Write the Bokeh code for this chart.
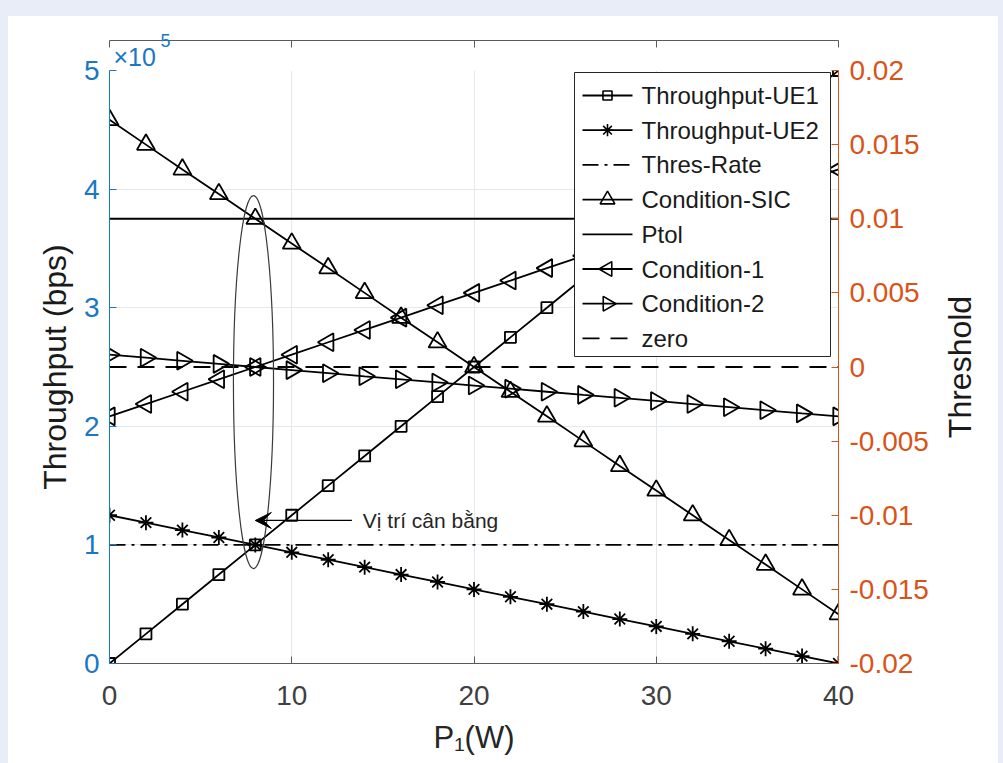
from bokeh.plotting import figure
from bokeh.layouts import row
from bokeh.models import (Range1d, LinearAxis, FixedTicker, Label, Arrow, VeeHead, Title)
from bokeh.core.properties import value
from bokeh.embed import file_html
from bokeh.resources import INLINE

# ---------------- data ----------------
p1_w = [0, 2, 4, 6, 8, 10, 12, 14, 16, 18, 20, 22, 24, 26, 28, 30, 32, 34, 36, 38, 40]

throughput_ue1 = [0, 25000, 50000, 75000, 100000, 125000, 150000, 175000, 200000, 225000,
                  250000, 275000, 300000, 325000, 350000, 375000, 400000, 425000, 450000,
                  475000, 500000]
throughput_ue2 = [125000, 118750, 112500, 106250, 100000, 93750, 87500, 81250, 75000, 68750,
                  62500, 56250, 50000, 43750, 37500, 31250, 25000, 18750, 12500, 6250, 0]
condition_sic = [0.01667, 0.015, 0.01333, 0.01167, 0.01, 0.00833, 0.00667, 0.005, 0.00333,
                 0.00167, 0.0, -0.00167, -0.00333, -0.005, -0.00667, -0.00833, -0.01,
                 -0.01167, -0.01333, -0.015, -0.01667]
condition_1 = [-0.00333, -0.0025, -0.00167, -0.00083, 0.0, 0.00083, 0.00167, 0.0025, 0.00333,
               0.00417, 0.005, 0.00583, 0.00667, 0.0075, 0.00833, 0.00917, 0.01, 0.01083,
               0.01167, 0.0125, 0.01333]
condition_2 = [0.00083, 0.00063, 0.00042, 0.00021, 0.0, -0.00021, -0.00042, -0.00063, -0.00083,
               -0.00104, -0.00125, -0.00146, -0.00167, -0.00188, -0.00208, -0.00229, -0.0025,
               -0.00271, -0.00292, -0.00313, -0.00333]

hline_x = [0, 40]
thres_rate = [100000, 100000]
ptol = [0.01, 0.01]
zero = [0.0, 0.0]

x_ticks = [0, 10, 20, 30, 40]
left_ticks = [0, 100000, 200000, 300000, 400000, 500000]
left_tick_labels = ["0", "1", "2", "3", "4", "5"]
right_ticks = [-0.02, -0.015, -0.01, -0.005, 0.0, 0.005, 0.01, 0.015, 0.02]
right_tick_labels = ["-0.02", "-0.015", "-0.01", "-0.005", "0", "0.005", "0.01", "0.015", "0.02"]

legend_labels = ["Throughput-UE1", "Throughput-UE2", "Thres-Rate", "Condition-SIC", "Ptol",
                 "Condition-1", "Condition-2", "zero"]

# annotation (equilibrium point)
eq_x, eq_y = 7.9, 237300
eq_w, eq_h = 2.2, 314500
arrow_x0, arrow_x1, arrow_y = 13.3, 8.0, 120600
note_x, note_y = 13.9, 120600
note_text = "Vị trí cân bằng"

# ---------------- style / layout ----------------
FONT = "Liberation Sans"
BLUE = "#1a78c2"
ORANGE = "#D95319"
DARK = "#262626"
GRID = "#e4e8ef"
LW = 1.8
W, H = 930, 747
BL, BR, BT, BB = 101, 100, 54, 100
FW, FH = W - BL - BR, H - BT - BB
X0, X1, Y0, Y1 = 0, 40, 0, 500000
W2 = 60

# per-series styles: (marker, marker size, angle, dash)
SERIES_STYLE = [("square", 11, 0.0, "solid"), ("asterisk", 15, 0.0, "solid"),
                (None, 0, 0.0, "16 6 3 6"), ("triangle", 18, 0.0, "solid"),
                (None, 0, 0.0, "solid"), ("triangle", 18, 1.5708, "solid"),
                ("triangle", 18, -1.5708, "solid"), (None, 0, 0.0, "17 11")]
LEGEND_MARKER_SCALE = 0.82

# legend box geometry, pixels relative to the frame's top-left corner
LEG_L, LEG_R, LEG_T, LEG_B = 465, 721, 2, 286
LEG_ROW0, LEG_ROW_H = 25, 34.7
LEG_LINE0, LEG_LINE1, LEG_TEXT = 473, 523, 532


def px_to_x(px):
    return X0 + px / FW * (X1 - X0)


def py_to_y(py):
    return Y1 - py / FH * (Y1 - Y0)


p = figure(width=W, height=H, x_range=Range1d(X0, X1), y_range=Range1d(Y0, Y1),
           output_backend="svg", toolbar_location=None, title="5",
           min_border_left=BL, min_border_right=BR, min_border_top=BT,
           min_border_bottom=BB, background_fill_color="white",
           border_fill_color="white", outline_line_color=None)
p.extra_y_ranges = {"thr": Range1d(-0.02, 0.02)}

# "x10^5" multiplier: inner title "x10", outer (raised) title "5"
p.add_layout(Title(text="×10", align="left", offset=4, standoff=0, text_font=FONT,
                   text_font_size="25px", text_font_style="normal", text_color=BLUE),
             "above")
p.title.align = "left"
p.title.offset = 51
p.title.standoff = -13
p.title.text_font = FONT
p.title.text_font_size = "18px"
p.title.text_font_style = "normal"
p.title.text_color = BLUE

# bottom axis
xa = p.xaxis[0]
xa.ticker = FixedTicker(ticks=x_ticks)
xa.axis_line_color = "#5a5a5a"
xa.major_tick_line_color = "#5a5a5a"
xa.major_tick_in = 7
xa.major_tick_out = 0
xa.minor_tick_line_color = None
xa.major_label_text_font = FONT
xa.major_label_text_font_size = "28px"
xa.major_label_text_color = "#404040"
xa.major_label_standoff = 22
xa.axis_label = "P₁(W)"
xa.axis_label_text_font = FONT
xa.axis_label_text_font_size = "31px"
xa.axis_label_text_font_style = "normal"
xa.axis_label_text_color = DARK
xa.axis_label_standoff = 12

# top box line
ta = LinearAxis(ticker=FixedTicker(ticks=x_ticks), axis_line_color="#5a5a5a",
                major_tick_line_color="#5a5a5a", major_tick_in=7, major_tick_out=0,
                minor_tick_line_color=None, major_label_text_color=None,
                major_label_text_font_size="0px", major_label_standoff=0)
p.add_layout(ta, "above")

# left axis
ya = p.yaxis[0]
ya.ticker = FixedTicker(ticks=left_ticks)
ya.major_label_overrides = {t: s for t, s in zip(left_ticks, left_tick_labels)}
ya.axis_line_color = BLUE
ya.major_tick_line_color = BLUE
ya.major_tick_in = 7
ya.major_tick_out = 0
ya.minor_tick_line_color = None
ya.major_label_text_font = FONT
ya.major_label_text_font_size = "28px"
ya.major_label_text_color = BLUE
ya.major_label_standoff = 10
ya.axis_label = "Throughput (bps)"
ya.axis_label_text_font = FONT
ya.axis_label_text_font_size = "32px"
ya.axis_label_text_font_style = "normal"
ya.axis_label_text_color = "#1a1a1a"
ya.axis_label_standoff = 8

# right axis (ticks only; its title is drawn by the narrow side figure)
ra = LinearAxis(y_range_name="thr", ticker=FixedTicker(ticks=right_ticks))
ra.major_label_overrides = {t: s for t, s in zip(right_ticks, right_tick_labels)}
ra.axis_line_color = ORANGE
ra.major_tick_line_color = ORANGE
ra.major_tick_in = 7
ra.major_tick_out = 0
ra.minor_tick_line_color = None
ra.major_label_text_font = FONT
ra.major_label_text_font_size = "28px"
ra.major_label_text_color = ORANGE
ra.major_label_standoff = 11
p.add_layout(ra, "right")

p.xgrid.grid_line_color = GRID
p.ygrid.grid_line_color = GRID

# ---------------- series ----------------
series = [(throughput_ue1, p1_w, "default"), (throughput_ue2, p1_w, "default"),
          (thres_rate, hline_x, "default"), (condition_sic, p1_w, "thr"),
          (ptol, hline_x, "thr"), (condition_1, p1_w, "thr"),
          (condition_2, p1_w, "thr"), (zero, hline_x, "thr")]

for (ys, xs, rng), (mk, ms, ang, dash) in zip(series, SERIES_STYLE):
    p.line(xs, ys, y_range_name=rng, line_color="black", line_width=LW, line_dash=dash)
    if mk is not None:
        p.scatter(xs, ys, y_range_name=rng, marker=mk, size=ms, angle=ang,
                  fill_color=None, line_color="black", line_width=LW)

# ---------------- annotations ----------------
p.ellipse(x=[eq_x], y=[eq_y], width=[eq_w], height=[eq_h], fill_color=None,
          line_color="#3a3a3a", line_width=1.2)
p.add_layout(Arrow(end=VeeHead(size=16, fill_color="black", line_color="black"),
                   x_start=arrow_x0, y_start=arrow_y, x_end=arrow_x1, y_end=arrow_y,
                   line_color="black", line_width=1.2))
p.add_layout(Label(x=note_x, y=note_y, text=note_text, text_font=FONT,
                   text_font_size="21px", text_color=DARK, text_baseline="middle",
                   text_align="left"))

# ---------------- legend (drawn on top of the data, MATLAB style) ----------------
p.quad(left=[px_to_x(LEG_L)], right=[px_to_x(LEG_R)], top=[py_to_y(LEG_T)],
       bottom=[py_to_y(LEG_B)], fill_color="white", line_color=DARK, line_width=1)
for i, (lab, (mk, ms, ang, dash)) in enumerate(zip(legend_labels, SERIES_STYLE)):
    yy = py_to_y(LEG_ROW0 + i * LEG_ROW_H)
    p.line([px_to_x(LEG_LINE0), px_to_x(LEG_LINE1)], [yy, yy], line_color="black",
           line_width=LW, line_dash=dash)
    if mk is not None:
        p.scatter([px_to_x((LEG_LINE0 + LEG_LINE1) / 2)], [yy], marker=mk,
                  size=ms * LEGEND_MARKER_SCALE, angle=ang, fill_color=None,
                  line_color="black", line_width=1.6)
    p.text(x=[px_to_x(LEG_TEXT)], y=[yy], text=[lab], text_font=value(FONT),
           text_font_size=value("24px"), text_color="#1a1a1a",
           text_baseline="middle", text_align="left")

# ---------------- narrow side figure carrying the right-axis title ----------------
p2 = figure(width=W2, height=H, x_range=Range1d(0, 1), y_range=Range1d(0, 1),
            output_backend="svg", toolbar_location=None,
            min_border_left=40, min_border_right=0, min_border_top=BT,
            min_border_bottom=BB, background_fill_color="white",
            border_fill_color="white", outline_line_color=None)
p2.xaxis.visible = False
p2.grid.visible = False
ya2 = p2.yaxis[0]
ya2.axis_line_color = None
ya2.major_tick_line_color = None
ya2.minor_tick_line_color = None
ya2.major_label_text_color = None
ya2.major_label_text_font_size = "0px"
ya2.major_label_standoff = 0
ya2.major_tick_out = 0
ya2.major_tick_in = 0
ya2.axis_label = "Threshold"
ya2.axis_label_text_font = FONT
ya2.axis_label_text_font_size = "32px"
ya2.axis_label_text_font_style = "normal"
ya2.axis_label_text_color = "#1a1a1a"
ya2.axis_label_standoff = 4

layout = row(p, p2, spacing=0, styles={"background-color": "white"})

TEMPLATE = """
{% block postamble %}
<style>
html, body { background: #e9edf7 !important; margin: 0 !important; overflow: hidden !important; }
body { padding: 16px 0 0 8px !important; box-sizing: border-box; }
</style>
{% endblock %}
"""

open("out.html", "w").write(file_html(layout, INLINE, title="chart", template=TEMPLATE))
